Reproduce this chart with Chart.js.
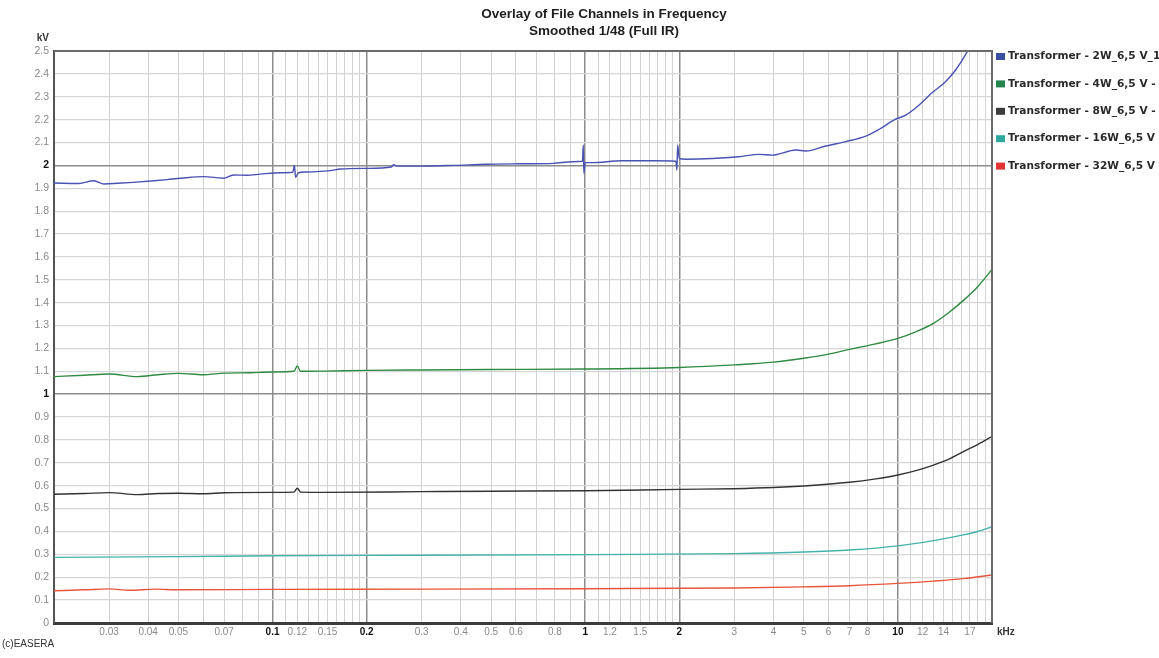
<!DOCTYPE html>
<html>
<head>
<meta charset="utf-8">
<title>Overlay of File Channels in Frequency</title>
<script src="https://cdn.jsdelivr.net/npm/chart.js@4/dist/chart.umd.min.js"></script>
<style>
  html, body { margin: 0; padding: 0; background: #fff; }
  #wrap { width: 1159px; height: 658px; position: relative; }
</style>
</head>
<body>
<div id="wrap"><canvas id="chart"></canvas></div>
<script>
// Частоты в кГц, напряжение в кВ
const freq2W = [0.02, 0.024, 0.0268, 0.0289, 0.032, 0.0358, 0.0418, 0.046, 0.0509, 0.0603, 0.0697, 0.075, 0.083, 0.0915,
  0.106, 0.116, 0.1175, 0.1185, 0.121, 0.128, 0.153, 0.165, 0.2, 0.24, 0.244, 0.25, 0.297, 0.379, 0.483, 0.62, 0.79,
  0.911, 0.98, 0.986, 0.99, 1.0, 1.05, 1.31, 1.68, 1.95, 1.965, 1.975, 2.0, 2.1, 2.55, 3.1, 3.6, 3.96, 4.72, 5.08,
  5.88, 6.82, 7.9, 8.72, 9.8, 10.6, 11.7, 12.8, 14.2, 15.3, 16.6, 18.2, 20];
const kv2W = [1.923, 1.921, 1.933, 1.919, 1.922, 1.926, 1.933, 1.938, 1.944, 1.951, 1.944, 1.958, 1.957, 1.962,
  1.968, 1.970, 2.000, 1.948, 1.968, 1.971, 1.977, 1.984, 1.987, 1.993, 2.003, 1.997, 1.997, 2.000, 2.005, 2.007, 2.009,
  2.016, 2.018, 2.089, 1.965, 2.012, 2.012, 2.020, 2.020, 2.018, 1.980, 2.089, 2.030, 2.027, 2.030, 2.038, 2.048, 2.045, 2.067, 2.063,
  2.085, 2.104, 2.128, 2.158, 2.201, 2.220, 2.264, 2.315, 2.366, 2.417, 2.493, 2.600, 2.720];

const freq4W = [0.02, 0.025, 0.03, 0.037, 0.043, 0.05, 0.06, 0.07, 0.085, 0.1, 0.117, 0.12, 0.123, 0.146, 0.2, 0.3,
  0.5, 1.0, 2.0, 3.0, 4.0, 5.0, 6.0, 7.0, 8.5, 10, 11.5, 13, 14.5, 16.2, 18, 20];
const kv4W = [1.077, 1.083, 1.088, 1.077, 1.085, 1.091, 1.085, 1.092, 1.094, 1.097, 1.100, 1.123, 1.100, 1.101, 1.104, 1.106,
  1.108, 1.110, 1.117, 1.128, 1.140, 1.157, 1.175, 1.196, 1.220, 1.244, 1.275, 1.310, 1.355, 1.410, 1.470, 1.545];

const freq8W = [0.02, 0.025, 0.03, 0.037, 0.043, 0.05, 0.06, 0.07, 0.1, 0.117, 0.12, 0.123, 0.146, 0.3, 0.5, 1.0,
  2.0, 3.0, 4.0, 5.0, 7.0, 8.5, 10, 11.5, 13, 14.5, 16.2, 18, 20];
const kv8W = [0.563, 0.566, 0.570, 0.561, 0.566, 0.567, 0.565, 0.569, 0.571, 0.572, 0.589, 0.572, 0.571, 0.574, 0.576, 0.578,
  0.584, 0.587, 0.592, 0.599, 0.615, 0.630, 0.647, 0.667, 0.690, 0.715, 0.749, 0.780, 0.815];

const freq16W = [0.02, 0.05, 0.1, 0.3, 1.0, 3.0, 5.0, 7.0, 10, 13, 16.2, 18, 20];
const kv16W = [0.287, 0.290, 0.294, 0.296, 0.299, 0.303, 0.310, 0.319, 0.337, 0.360, 0.385, 0.400, 0.421];

const freq32W = [0.02, 0.025, 0.03, 0.035, 0.042, 0.05, 0.1, 0.3, 1.0, 3.0, 5.0, 7.0, 10, 13, 16.2, 20];
const kv32W = [0.141, 0.145, 0.149, 0.143, 0.148, 0.145, 0.147, 0.148, 0.150, 0.153, 0.158, 0.163, 0.173, 0.183, 0.194, 0.210];

const seriesNames = ['Transformer - 2W_6,5 V_1', 'Transformer - 4W_6,5 V -', 'Transformer - 8W_6,5 V -',
  'Transformer - 16W_6,5 V', 'Transformer - 32W_6,5 V'];

// Сетка и подписи оси X
const xGridKHz = [0.02, 0.03, 0.04, 0.05, 0.06, 0.07, 0.08, 0.09, 0.1, 0.11, 0.12, 0.13, 0.14, 0.15, 0.16, 0.17, 0.18, 0.19,
  0.2, 0.3, 0.4, 0.5, 0.6, 0.7, 0.8, 0.9, 1, 1.1, 1.2, 1.3, 1.4, 1.5, 1.6, 1.7, 1.8, 1.9, 2, 3, 4, 5, 6, 7, 8, 9,
  10, 11, 12, 13, 14, 15, 16, 17, 18, 19, 20];
const xLabelKHz = [0.03, 0.04, 0.05, 0.07, 0.1, 0.12, 0.15, 0.2, 0.3, 0.4, 0.5, 0.6, 0.8, 1, 1.2, 1.5, 2, 3, 4, 5, 6, 7, 8,
  10, 12, 14, 17];
const xMajorKHz = [0.1, 0.2, 1, 2, 10];
const yMajorKV = [1, 2];

const lineColors = ['#4a52b4', '#2f8a42', '#333333', '#45b3aa', '#e8573c'];
const legendColors = ['#3a4ea4', '#23844e', '#3c3c3c', '#2fa9a0', '#e23434'];

const FONT = '"Liberation Sans", Arial, sans-serif';

function toPoints(xs, ys) {
  return xs.map((x, i) => ({ x: x, y: ys[i] }));
}
function isIn(list, v) {
  return list.some((m) => Math.abs(m - v) < 1e-6);
}

// Рамка, заголовок, подписи единиц и легенда
const decorPlugin = {
  id: 'decor',
  afterDraw(chart) {
    const { ctx, chartArea } = chart;
    ctx.save();
    ctx.strokeStyle = '#6a6a6a';
    ctx.lineWidth = 2;
    ctx.beginPath();
    ctx.moveTo(chartArea.left, chartArea.top);
    ctx.lineTo(chartArea.right, chartArea.top);
    ctx.lineTo(chartArea.right, chartArea.bottom);
    ctx.stroke();

    ctx.fillStyle = '#1e1e1e';
    ctx.textAlign = 'center';
    ctx.textBaseline = 'middle';
    ctx.font = 'bold 13.5px ' + FONT;
    ctx.fillText('Overlay of File Channels in Frequency', 604, 14);
    ctx.fillText('Smoothed 1/48 (Full IR)', 604, 31);

    ctx.font = 'bold 10px ' + FONT;
    ctx.fillStyle = '#333';
    ctx.textAlign = 'right';
    ctx.fillText('kV', 49, 38);
    ctx.textAlign = 'left';
    ctx.fillText('kHz', 997, 632);
    ctx.font = '10px ' + FONT;
    ctx.fillText('(c)EASERA', 2, 644);

    // Легенда справа (обрезается краем, как в оригинале)
    ctx.font = 'bold 10.6px "DejaVu Sans", sans-serif';
    seriesNames.forEach((name, i) => {
      const y = 56 + i * 27.4;
      ctx.fillStyle = legendColors[i];
      ctx.fillRect(996, y - 3, 9, 7);
      ctx.fillStyle = '#2a2a2a';
      ctx.fillText(name, 1008, y + 0.5);
    });
    ctx.restore();
  },
};

const datasets = [
  toPoints(freq2W, kv2W),
  toPoints(freq4W, kv4W),
  toPoints(freq8W, kv8W),
  toPoints(freq16W, kv16W),
  toPoints(freq32W, kv32W),
].map((data, i) => ({
  label: seriesNames[i],
  data: data,
  borderColor: lineColors[i],
  backgroundColor: lineColors[i],
  borderWidth: 1.4,
  pointRadius: 0,
  cubicInterpolationMode: 'monotone',
}));

new Chart(document.getElementById('chart'), {
  type: 'line',
  data: { datasets: datasets },
  options: {
    animation: false,
    responsive: true,
    maintainAspectRatio: false,
    layout: { padding: { top: 51, right: 167, left: 0, bottom: 0 } },
    plugins: {
      legend: { display: false },
      title: { display: false },
      tooltip: { enabled: false },
    },
    scales: {
      x: {
        type: 'logarithmic',
        min: 0.02,
        max: 20,
        afterBuildTicks: (scale) => {
          scale.ticks = xGridKHz.map((v) => ({ value: v }));
        },
        afterFit: (scale) => {
          scale.height = 35;
        },
        border: { display: true, color: '#3c3c3c', width: 3 },
        grid: {
          drawTicks: false,
          color: (c) => (c.tick && isIn(xMajorKHz, c.tick.value) ? '#8c8c8c' : '#d2d2d2'),
          lineWidth: (c) => (c.tick && isIn(xMajorKHz, c.tick.value) ? 1.5 : 1),
        },
        ticks: {
          autoSkip: false,
          maxRotation: 0,
          minRotation: 0,
          padding: 3,
          callback: (v) => (isIn(xLabelKHz, v) ? String(v) : ''),
          color: (c) => (c.tick && isIn(xMajorKHz, c.tick.value) ? '#111' : '#8a8a8a'),
          font: (c) => ({
            family: FONT,
            size: 10,
            weight: c.tick && isIn(xMajorKHz, c.tick.value) ? 'bold' : 'normal',
          }),
        },
      },
      y: {
        min: 0,
        max: 2.5,
        afterFit: (scale) => {
          scale.width = 54;
        },
        border: { display: true, color: '#555', width: 2 },
        grid: {
          drawTicks: false,
          color: (c) => (c.tick && isIn(yMajorKV, c.tick.value) ? '#8c8c8c' : '#d6d6d6'),
          lineWidth: (c) => (c.tick && isIn(yMajorKV, c.tick.value) ? 1.5 : 1.3),
        },
        ticks: {
          stepSize: 0.1,
          padding: 5,
          callback: (v) => String(Number(v.toFixed(1))),
          color: (c) => (c.tick && isIn(yMajorKV, c.tick.value) ? '#111' : '#8a8a8a'),
          font: (c) => ({
            family: FONT,
            size: 10.5,
            weight: c.tick && isIn(yMajorKV, c.tick.value) ? 'bold' : 'normal',
          }),
        },
      },
    },
  },
  plugins: [decorPlugin],
});
</script>
</body>
</html>
